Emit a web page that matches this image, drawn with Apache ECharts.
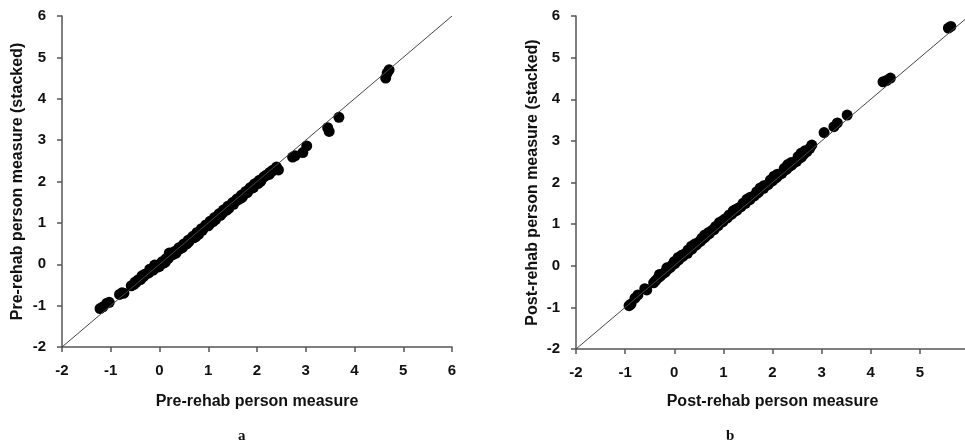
<!DOCTYPE html>
<html>
<head>
<meta charset="utf-8">
<script src="https://cdn.jsdelivr.net/npm/echarts@6/dist/echarts.min.js"></script>
<style>
  html, body { margin: 0; padding: 0; background: #fff; }
  #chart { width: 965px; height: 447px; }
</style>
</head>
<body>
<div id="chart"></div>
<script>
// panel a: pre-rehab person measure vs stacked measure
var preX = [-1.22, -1.16, -1.08, -1.03, -0.82, -0.77, -0.73, -0.58, -0.53, -0.48, -0.44, -0.39, -0.33, -0.28,
  -0.22, -0.18, -0.13, -0.08, -0.04, 0.0, 0.01, 0.05, 0.09, 0.13, 0.18, 0.22, 0.27, 0.3, 0.31, 0.36, 0.4, 0.45,
  0.5, 0.54, 0.59, 0.6, 0.63, 0.68, 0.7, 0.72, 0.77, 0.81, 0.86, 0.9, 0.95, 0.99, 1.0, 1.04, 1.08, 1.13, 1.17,
  1.22, 1.27, 1.3, 1.31, 1.36, 1.4, 1.45, 1.5, 1.54, 1.59, 1.6, 1.63, 1.68, 1.72, 1.77, 1.82, 1.86, 1.9, 1.91,
  1.95, 2.0, 2.05, 2.09, 2.14, 2.2, 2.26, 2.32, 2.38, 2.44, 2.73, 2.78, 2.94, 3.02, 3.45, 3.48, 3.68, 4.64, 4.67, 4.71,
  -0.5, -0.36, -0.2, -0.1, 0.07, 0.2, 0.34, 0.47, 0.56, 0.74, 0.88, 1.02, 1.15, 1.25, 1.38, 1.52, 1.66, 1.8,
  1.93, 2.07, 2.18, 2.3, 2.4,
  -0.3, 0.12, 0.42, 0.8, 1.1, 1.42, 1.7, 2.02, 2.25]
var preY = [-1.07, -1.03, -0.94, -0.92, -0.73, -0.69, -0.7, -0.52, -0.49, -0.44, -0.38, -0.37, -0.3, -0.24,
  -0.21, -0.12, -0.14, -0.05, -0.07, -0.05, 0.0, 0.06, 0.04, 0.13, 0.14, 0.22, 0.23, 0.25, 0.31, 0.33, 0.4, 0.42,
  0.49, 0.51, 0.58, 0.54, 0.6, 0.67, 0.64, 0.69, 0.77, 0.77, 0.86, 0.87, 0.95, 0.96, 0.93, 1.04, 1.05, 1.13, 1.14,
  1.22, 1.24, 1.25, 1.31, 1.33, 1.4, 1.42, 1.49, 1.51, 1.58, 1.55, 1.6, 1.67, 1.69, 1.76, 1.78, 1.85, 1.84, 1.88,
  1.94, 1.97, 2.03, 2.04, 2.11, 2.16, 2.22, 2.27, 2.3, 2.28, 2.59, 2.62, 2.7, 2.86, 3.3, 3.21, 3.55, 4.5, 4.62, 4.7,
  -0.43, -0.28, -0.12, -0.02, 0.02, 0.27, 0.27, 0.4, 0.49, 0.66, 0.82, 0.96, 1.08, 1.18, 1.31, 1.45, 1.59, 1.73,
  1.86, 2.0, 2.14, 2.24, 2.35,
  -0.24, 0.05, 0.37, 0.72, 1.03, 1.35, 1.62, 1.95, 2.17]

// panel b: post-rehab person measure vs stacked measure
var postX = [-0.92, -0.88, -0.8, -0.74, -0.6, -0.56, -0.42, -0.38, -0.33, -0.28, -0.23, -0.18, -0.13, -0.08,
  -0.04, 0.01, 0.05, 0.09, 0.13, 0.18, 0.22, 0.27, 0.31, 0.36, 0.4, 0.45, 0.5, 0.54, 0.59, 0.63, 0.68, 0.72,
  0.77, 0.81, 0.86, 0.9, 0.95, 0.99, 1.04, 1.08, 1.13, 1.17, 1.22, 1.27, 1.31, 1.36, 1.4, 1.45, 1.5, 1.54, 1.59,
  1.63, 1.68, 1.72, 1.77, 1.82, 1.86, 1.91, 1.95, 2.0, 2.05, 2.09, 2.14, 2.19, 2.24, 2.29, 2.34, 2.39, 2.44,
  2.49, 2.54, 2.59, 2.64, 2.7, 2.76, 2.8, 3.05, 3.25, 3.32, 3.52, 4.25, 4.32, 4.4, 5.58, 5.63,
  -0.3, -0.15, 0.0, 0.15, 0.28, 0.42, 0.56, 0.7, 0.84, 0.98, 1.12, 1.26, 1.4, 1.54, 1.68, 1.82, 1.96, 2.1,
  2.24, 2.38, 2.52, 2.66,
  0.08, 0.35, 0.62, 0.92, 1.2, 1.48, 1.75, 2.03, 2.31, 2.58]
var postY = [-0.96, -0.92, -0.78, -0.7, -0.55, -0.58, -0.41, -0.36, -0.29, -0.25, -0.19, -0.15, -0.08, -0.04,
  0.02, 0.05, 0.11, 0.14, 0.2, 0.23, 0.29, 0.3, 0.38, 0.4, 0.47, 0.5, 0.57, 0.59, 0.66, 0.69, 0.75, 0.78,
  0.85, 0.87, 0.94, 0.97, 1.04, 1.06, 1.13, 1.15, 1.22, 1.24, 1.3, 1.33, 1.39, 1.42, 1.48, 1.5, 1.57, 1.59, 1.66,
  1.68, 1.74, 1.77, 1.84, 1.86, 1.92, 1.95, 2.01, 2.04, 2.1, 2.13, 2.19, 2.22, 2.29, 2.32, 2.39, 2.42, 2.48,
  2.51, 2.58, 2.61, 2.68, 2.74, 2.82, 2.9, 3.2, 3.34, 3.43, 3.62, 4.42, 4.45, 4.51, 5.71, 5.75,
  -0.21, -0.05, 0.1, 0.25, 0.38, 0.52, 0.66, 0.8, 0.94, 1.08, 1.22, 1.36, 1.5, 1.64, 1.78, 1.92, 2.06, 2.2,
  2.34, 2.48, 2.62, 2.76,
  0.2, 0.47, 0.74, 1.04, 1.32, 1.6, 1.87, 2.15, 2.43, 2.7]

var identityX = [-2, 6]
var ticks = [-2, -1, 0, 1, 2, 3, 4, 5, 6]

function pairs(xs, ys) {
  return xs.map(function (x, i) { return [x, ys[i]] })
}

var labelFont = { fontFamily: 'Liberation Sans', fontWeight: 'bold', fontSize: 16, color: '#111' }

function valueAxis(gridIndex, name, nameGap) {
  return {
    type: 'value',
    gridIndex: gridIndex,
    min: ticks[0],
    max: ticks[ticks.length - 1],
    interval: 1,
    name: name,
    nameLocation: 'middle',
    nameGap: nameGap,
    nameTextStyle: labelFont,
    axisLine: { show: true, onZero: false, lineStyle: { color: '#555', width: 1.5 } },
    axisTick: { show: true, length: 5, lineStyle: { color: '#555', width: 1.5 } },
    axisLabel: Object.assign({ margin: 16 }, labelFont, { fontSize: 15 }),
    splitLine: { show: false }
  }
}

var chart = echarts.init(document.getElementById('chart'))
chart.setOption({
  animation: false,
  title: [
    { text: 'a', left: 233, top: 424, textStyle: { fontFamily: 'Liberation Serif', fontWeight: 'bold', fontSize: 15, color: '#111' } },
    { text: 'b', left: 721, top: 424, textStyle: { fontFamily: 'Liberation Serif', fontWeight: 'bold', fontSize: 15, color: '#111' } }
  ],
  grid: [
    { left: 62, top: 16, width: 390, height: 331, outerBoundsMode: 'none' },
    { left: 576, top: 16, width: 393, height: 333, outerBoundsMode: 'none' }
  ],
  xAxis: [
    valueAxis(0, 'Pre-rehab person measure', 47),
    valueAxis(1, 'Post-rehab person measure', 45)
  ],
  yAxis: [
    valueAxis(0, 'Pre-rehab person measure (stacked)', 36),
    valueAxis(1, 'Post-rehab person measure (stacked)', 35)
  ],
  series: [
    {
      type: 'line', xAxisIndex: 0, yAxisIndex: 0, symbol: 'none',
      data: pairs(identityX, identityX),
      lineStyle: { color: '#444', width: 1 }
    },
    {
      type: 'scatter', xAxisIndex: 0, yAxisIndex: 0,
      data: pairs(preX, preY),
      symbolSize: 11,
      itemStyle: { color: '#000', opacity: 1 }
    },
    {
      type: 'line', xAxisIndex: 1, yAxisIndex: 1, symbol: 'none',
      data: pairs(identityX, identityX),
      lineStyle: { color: '#444', width: 1 }
    },
    {
      type: 'scatter', xAxisIndex: 1, yAxisIndex: 1,
      data: pairs(postX, postY),
      symbolSize: 11,
      itemStyle: { color: '#000', opacity: 1 }
    }
  ]
})
</script>
</body>
</html>
